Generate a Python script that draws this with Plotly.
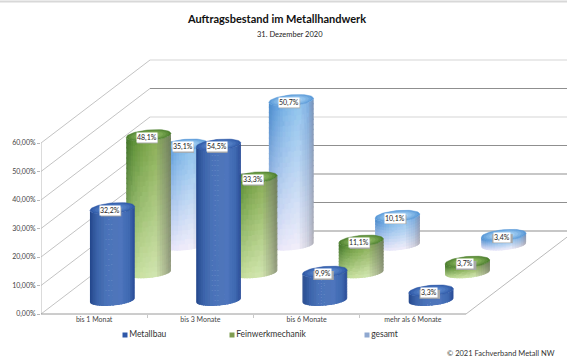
import numpy as np
import plotly.graph_objects as go

# ---------- data ----------
categories = ["bis 1 Monat", "bis 3 Monate", "bis 6 Monate", "mehr als 6 Monate"]
series_names = ["Metallbau", "Feinwerkmechanik", "gesamt"]
metallbau = [32.2, 54.5, 9.9, 3.3]
feinwerk = [48.1, 33.3, 11.1, 3.7]
gesamt = [35.1, 50.7, 10.1, 3.4]
y_ticks = [0, 10, 20, 30, 40, 50, 60]
y_ticktext = ["0,00%", "10,00%", "20,00%", "30,00%", "40,00%", "50,00%", "60,00%"]
series_values = [metallbau, feinwerk, gesamt]

# ---------- geometry ----------
W, H = 567, 363
PX_L, PX_B = 41, 314       # page position of the front-left origin
PX_CAT, PX_VAL = 106.25, 2.85   # pixels per category / per percent
DEPTH_X, DEPTH_Y = 109 / PX_CAT, 83 / PX_VAL   # oblique shift of the full depth, axis units
R_W, R_D = 21.0, 0.07      # cylinder radius: px along x, depth fraction
S_X, S_Y = 109 * R_D, 83 * R_D
PHI = np.arctan2(S_X, R_W)
FONT = "Lato"


def ring(theta, scale=1.0):
    dx = scale * (R_W * np.cos(theta) + S_X * np.sin(theta)) / PX_CAT
    dy = scale * (S_Y * np.sin(theta)) / PX_VAL
    return dx, dy


def mix(a, b, f):
    return tuple(a[i] + (b[i] - a[i]) * f for i in range(3))


def hx(s):
    return tuple(int(s[i:i + 2], 16) for i in (1, 3, 5))


STOPS = [-1.0, -0.7, -0.3, 0.3, 0.75, 1.0]
PAL = {
    0: dict(top=["#24478c", "#3a62a8", "#4a72b8", "#4f77bc", "#4068b2", "#294c96"],
            bot=["#24478c", "#3a62a8", "#4a72b8", "#4f77bc", "#4068b2", "#294c96"],
            rim="#2f59a6", cap="#5a86cc"),
    1: dict(top=["#40722a", "#5d8f38", "#74a046", "#8cb058", "#7d9262", "#6e7d5a"],
            bot=["#a9c680", "#c2dc98", "#cde3a6", "#d2e6b0", "#adb992", "#8e967a"],
            rim="#4f8030", cap="#8ab65e"),
    2: dict(top=["#4a8acb", "#629fdb", "#7db5e6", "#93c5ee", "#7faee0", "#7a93b8"],
            bot=["#d4d6ee", "#e6e4f8", "#eeeafa", "#f2eefa", "#d2d2de", "#aeaeb8"],
            rim="#5b9ad8", cap="#a2cef2"),
}


def body_color(s, u, w):
    p = PAL[s]
    def prof(lst):
        cols = [hx(c) for c in lst]
        return tuple(np.interp(u, STOPS, [c[i] for c in cols]) for i in range(3))
    return mix(prof(p["bot"]), prof(p["top"]), w)


def qkey(c):
    return tuple(int(round(v / 3.0) * 3) for v in c)


fig = go.Figure()


def line(xs, ys, color, width=1.0):
    fig.add_trace(go.Scatter(x=xs, y=ys, mode="lines", line=dict(color=color, width=width),
                             hoverinfo="skip", showlegend=False))


# ---------- walls and floor ----------
x_end = (W - PX_L) / PX_CAT + 0.2
for v in y_ticks:
    light = v in (40, 60)
    line([DEPTH_X, x_end], [v + DEPTH_Y, v + DEPTH_Y], "#d6d6d6" if light else "#8f8f8f", 1.2 if light else 1)
    line([0, DEPTH_X], [v, v + DEPTH_Y], "#b4b4b4", 0.8)
line([0, 0], [0, 60], "#b8b8b8", 1)
line([0, 4], [0, 0], "#9a9a9a", 1)
line([4, 4 + DEPTH_X], [0, DEPTH_Y], "#a8a8a8", 0.8)

# ---------- cylinders, back row first ----------
N_A = 24
for s in [2, 1, 0]:
    d = (s + 0.5) / 3
    for c, val in enumerate(series_values[s]):
        cx = c + 0.5 + DEPTH_X * d
        cy = DEPTH_Y * d
        rows = max(10, int(val * PX_VAL / 5))
        over = 1.0 / PX_VAL   # one pixel of overlap hides seams between cells
        groups = {}
        for i in range(N_A):
            a1 = np.pi + np.pi * i / N_A
            a2 = np.pi + np.pi * (i + 1) / N_A
            um = np.cos((a1 + a2) / 2)
            a2o = min(a2 + np.pi / N_A * 0.6, 2 * np.pi)
            dx1, dy1 = ring(a1 + PHI)
            dx2, dy2 = ring(a2o + PHI)
            for j in range(rows):
                w1, w2 = j / rows, (j + 1) / rows
                col = qkey(body_color(s, um, (w1 + w2) / 2))
                g = groups.setdefault(col, ([], []))
                g[0].extend([cx + dx1, cx + dx2, cx + dx2, cx + dx1, cx + dx1, None])
                y_hi = val * w2 + (over if j < rows - 1 else 0)
                g[1].extend([cy + dy1 + val * w1, cy + dy2 + val * w1,
                             cy + dy2 + y_hi, cy + dy1 + y_hi, cy + dy1 + val * w1, None])
        for col, (xs, ys) in groups.items():
            css = f"rgb({col[0]},{col[1]},{col[2]})"
            fig.add_trace(go.Scatter(x=xs, y=ys, mode="none", fill="toself", fillcolor=css,
                                     hoverinfo="skip", showlegend=False))
        # top cap
        th = np.linspace(0, 2 * np.pi, 60)
        rim, cap = hx(PAL[s]["rim"]), hx(PAL[s]["cap"])
        for k, sc in enumerate([1.0, 0.9, 0.78, 0.64, 0.48]):
            dx, dy = ring(th, sc)
            col = mix(rim, cap, k / 4)
            css = f"rgb({col[0]:.0f},{col[1]:.0f},{col[2]:.0f})"
            fig.add_trace(go.Scatter(x=cx + dx, y=cy + val + dy, mode="lines", fill="toself",
                                     fillcolor=css, line=dict(color=css, width=0.5),
                                     hoverinfo="skip", showlegend=False))

# ---------- legend row: a square and its name, per series ----------
legend_colors = ["#2f58a8", "#7f9c50", "#8fa8d0"]
legend_px = [125, 232, 367]
legend_y = (PX_B - 335) / PX_VAL
for name, col, px in zip(series_names, legend_colors, legend_px):
    fig.add_trace(go.Scatter(x=[(px - PX_L) / PX_CAT], y=[legend_y], mode="markers+text", name=name,
                             text=[name], textposition="middle right", cliponaxis=False,
                             textfont=dict(family=FONT, size=8.5, color="#333333"),
                             marker=dict(symbol="square", size=5, color=col),
                             hoverinfo="skip", showlegend=False))

# ---------- value labels ----------
annotations = []
shapes = []
for s in [2, 1, 0]:
    d = (s + 0.5) / 3
    for c, val in enumerate(series_values[s]):
        x = c + 0.5 + DEPTH_X * d - 2 / PX_CAT
        y = val + DEPTH_Y * d - 2 / PX_VAL
        txt = f"{val:.1f}%".replace(".", ",")
        shapes.append(dict(type="rect", xref="x", yref="y", xsizemode="pixel", ysizemode="pixel",
                           xanchor=x, yanchor=y, x0=-9.5, x1=11, y0=-6, y1=3,
                           fillcolor="#a8a8a8", line=dict(width=0), layer="above"))
        annotations.append(dict(x=x, y=y, text=txt, showarrow=False,
                                font=dict(family=FONT, size=7, color="#222222"),
                                bgcolor="#ffffff", borderpad=0))

# ---------- other text ----------
annotations.append(dict(xref="paper", yref="paper", x=(290 - PX_L) / (W - PX_L), y=1 - 34 / H,
                        text="31. Dezember 2020", showarrow=False, xanchor="center", yanchor="middle",
                        font=dict(family=FONT, size=7.5, color="#222222")))
annotations.append(dict(xref="paper", yref="paper", x=(557 - PX_L) / (W - PX_L), y=1 - 353 / H,
                        text="© 2021 Fachverband Metall NW", showarrow=False, xanchor="right", yanchor="middle",
                        font=dict(family=FONT, size=7.5, color="#333333")))
shapes.append(dict(type="line", xref="paper", yref="y", x0=-PX_L / (W - PX_L), x1=1,
                   y0=(PX_B - 1.5) / PX_VAL, y1=(PX_B - 1.5) / PX_VAL, line=dict(color="#d8d8d8", width=2)))

fig.update_layout(
    width=W, height=H, autosize=False,
    margin=dict(l=PX_L, r=0, t=0, b=0, pad=0),
    paper_bgcolor="white", plot_bgcolor="white",
    font=dict(family=FONT, size=7, color="#444444"),
    showlegend=False,
    title=dict(text="<b>Auftragsbestand im Metallhandwerk</b>", x=277 / W, y=1 - 19 / H,
               xref="container", yref="container", xanchor="center", yanchor="middle",
               font=dict(family=FONT, size=11, color="#111111")),
    xaxis=dict(range=[0, (W - PX_L) / PX_CAT], tickmode="array", tickvals=[0.5, 1.5, 2.5, 3.5],
               ticktext=categories, showgrid=False, zeroline=False, showline=False,
               anchor="free", position=(H - PX_B) / H,
               ticks="", ticklen=0, tickfont=dict(family=FONT, size=7, color="#444444"),
               minor=dict(tickmode="array", tickvals=[1, 2, 3], ticks="outside", ticklen=3,
                          tickcolor="#c8c8c8", showgrid=False)),
    yaxis=dict(range=[-(H - PX_B) / PX_VAL, PX_B / PX_VAL], tickmode="array", tickvals=y_ticks, ticktext=y_ticktext,
               showgrid=False, zeroline=False, showline=False, ticks="outside", ticklen=3,
               tickcolor="#b8b8b8", tickfont=dict(family=FONT, size=7, color="#444444")),
    annotations=annotations,
    shapes=shapes,
)
fig.write_html("out.html", config={"displayModeBar": False},
               post_script="document.body.style.margin='0';document.body.style.overflow='hidden';")
